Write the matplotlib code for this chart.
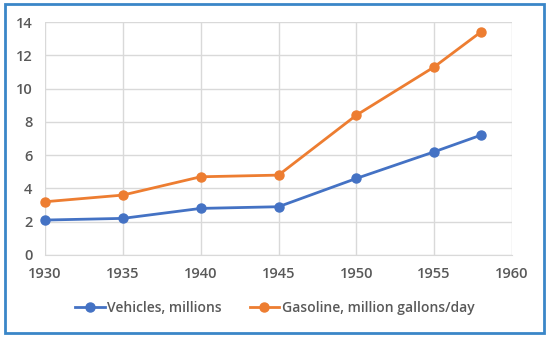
import matplotlib
matplotlib.use("Agg")
import matplotlib.pyplot as plt
from matplotlib.patches import Rectangle

# Data
years = [1930, 1935, 1940, 1945, 1950, 1955, 1958]
vehicles = [2.1, 2.2, 2.8, 2.9, 4.6, 6.2, 7.2]
gasoline = [3.2, 3.6, 4.7, 4.8, 8.4, 11.3, 13.4]
xticks = [1930, 1935, 1940, 1945, 1950, 1955, 1960]
yticks = [0, 2, 4, 6, 8, 10, 12, 14]

plt.rcParams['font.family'] = ['Open Sans', 'DejaVu Sans']

fig = plt.figure(figsize=(5.5, 3.38), dpi=100)
ax = fig.add_axes([45 / 550, 1 - 255 / 338, (512 - 45) / 550, (255 - 22) / 338])

ax.plot(years, vehicles, color='#4472C4', lw=2, marker='o', ms=6.5,
        label='Vehicles, millions', clip_on=False, zorder=3)
ax.plot(years, gasoline, color='#ED7D31', lw=2, marker='o', ms=6.5,
        label='Gasoline, million gallons/day', clip_on=False, zorder=3)

ax.set_xlim(1930, 1960)
ax.set_ylim(0, 14)
ax.set_xticks(xticks)
ax.set_yticks(yticks)
ax.grid(True, color='#D9D9D9', lw=1)
ax.set_axisbelow(True)
for s in ['top', 'right', 'left']:
    ax.spines[s].set_visible(False)
ax.spines['bottom'].set_color('#D9D9D9')
ax.tick_params(length=0, labelsize=10.5, labelcolor='#595959', pad=9)
for lab in ax.get_xticklabels() + ax.get_yticklabels():
    lab.set_fontweight('semibold')

leg = fig.legend(loc='center', bbox_to_anchor=(0.5, 1 - 308 / 338), ncol=2,
                 frameon=False, fontsize=10, handlelength=2.1, columnspacing=2.0,
                 handletextpad=0.2)
for t in leg.get_texts():
    t.set_color('#595959')
    t.set_fontweight('semibold')

# outer blue border
fig.patches.append(Rectangle((5 / 550, 1 - 333 / 338), 539 / 550, 329 / 338,
                             transform=fig.transFigure, fill=False,
                             edgecolor='#3A86C8', lw=2))

fig.savefig('out.png', dpi=100)
